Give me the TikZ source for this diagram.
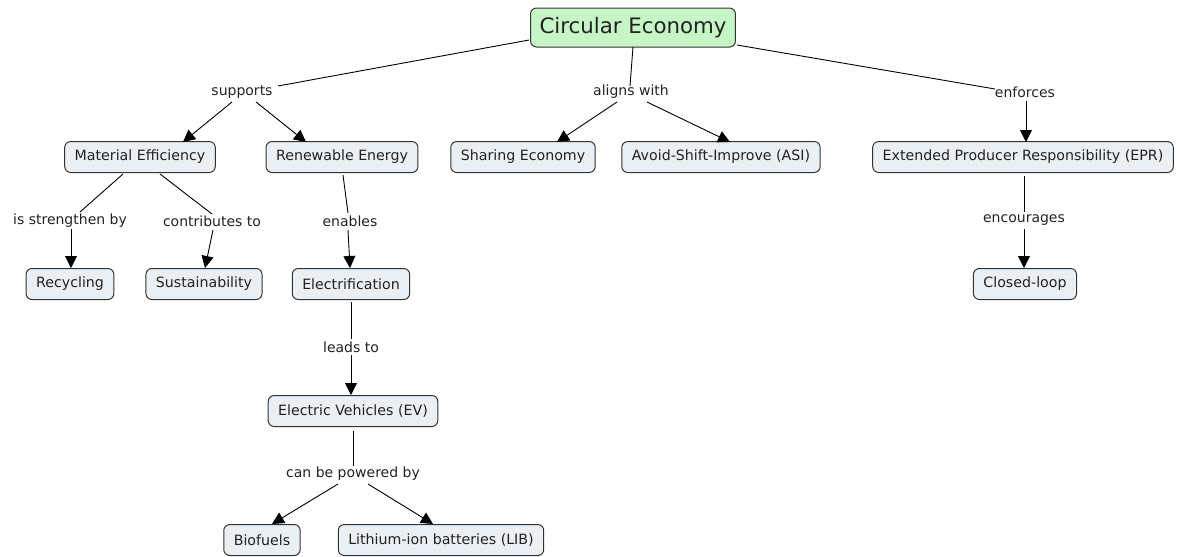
\documentclass[tikz,border=0pt]{standalone}
\usepackage{fontspec}
\setmainfont{DejaVu Sans}
\usetikzlibrary{arrows.meta}
\definecolor{cfill}{HTML}{E9EFF2}
\definecolor{gfill}{HTML}{C6F5C6}
\definecolor{bord}{HTML}{333333}
\definecolor{txt}{HTML}{222222}
\tikzset{
  concept/.style={draw=bord, line width=1pt, fill=cfill, rounded corners=6pt, font=\fontsize{14.2}{16}\selectfont, text=txt, inner xsep=10pt, minimum height=31pt},
  root/.style={concept, fill=gfill, font=\fontsize{21.3}{25}\selectfont, minimum height=39pt, inner xsep=9pt},
  lbl/.style={font=\fontsize{14}{16}\selectfont, text=txt, inner sep=1pt},
  ln/.style={draw=black, line width=0.9pt},
  arr/.style={ln, -{Triangle[width=12pt,length=12pt]}}
}
\newcommand{\pt}[2]{([shift={#2}]#1.center)}
\begin{document}
\begin{tikzpicture}[x=1pt,y=-1pt]
\useasboundingbox (0,0) rectangle (1181,557);
\node[root] (ce) at (633,27.5) {Circular Economy};
\node[concept] (me) at (140,157) {Material Efficiency};
\node[concept] (re) at (342,157) {Renewable Energy};
\node[concept] (se) at (523,157) {Sharing Economy};
\node[concept] (asi) at (721,157) {Avoid-Shift-Improve (ASI)};
\node[concept] (epr) at (1023,157) {Extended Producer Responsibility (EPR)};
\node[concept] (rec) at (70,284) {Recycling};
\node[concept] (sus) at (204,284) {Sustainability};
\node[concept] (el) at (351,284) {Electrification};
\node[concept] (cl) at (1025,284) {Closed-loop};
\node[concept] (ev) at (353,411) {Electric Vehicles (EV)};
\node[concept] (bio) at (262,540) {Biofuels};
\node[concept] (lib) at (441,540) {Lithium-ion batteries (LIB)};

\node[lbl] (l1) at (242,92) {supports};
\node[lbl] (l2) at (631,92) {aligns with};
\node[lbl] (l3) at (1025,92) {enforces};
\node[lbl] (l4) at (70,221) {is strengthen by};
\node[lbl] (l5) at (212,221) {contributes to};
\node[lbl] (l6) at (350,221) {enables};
\node[lbl] (l7) at (351,347) {leads to};
\node[lbl] (l8) at (1024,220) {encourages};
\node[lbl] (l9) at (353,474) {can be powered by};

% links
\draw[ln]  \pt{ce}{(-104,12.5)} -- \pt{l1}{(36,-6)};
\draw[arr] \pt{l1}{(-10,10)} -- \pt{me}{(43,-15)};
\draw[arr] \pt{l1}{(14,10)} -- \pt{re}{(-36,-15)};
\draw[ln]  \pt{ce}{(0,19.5)} -- \pt{l2}{(-1,-6)};
\draw[arr] \pt{l2}{(-14,10)} -- \pt{se}{(34,-15)};
\draw[arr] \pt{l2}{(16,10)} -- \pt{asi}{(9,-15)};
\draw[ln]  \pt{ce}{(104,17.5)} -- \pt{l3}{(-30,-3)};
\draw[arr] \pt{l3}{(1,9)} -- \pt{epr}{(3,-15)};

\draw[ln]  \pt{me}{(-17,17)} -- \pt{l4}{(10,-9)};
\draw[arr] \pt{l4}{(1,8)} -- \pt{rec}{(1,-16)};
\draw[ln]  \pt{me}{(20,17)} -- \pt{l5}{(0,-7)};
\draw[arr] \pt{l5}{(1,9)} -- \pt{sus}{(1,-16)};
\draw[ln]  \pt{re}{(1,18)} -- \pt{l6}{(-2,-8)};
\draw[arr] \pt{l6}{(-2,9)} -- \pt{el}{(-1,-16)};
\draw[ln]  \pt{el}{(0,18)} -- \pt{l7}{(0,-8)};
\draw[arr] \pt{l7}{(0,8)} -- \pt{ev}{(-2,-16)};
\draw[ln]  \pt{ev}{(0,20)} -- \pt{l9}{(0,-8)};
\draw[arr] \pt{l9}{(-15,10)} -- \pt{bio}{(10,-16)};
\draw[arr] \pt{l9}{(15,10)} -- \pt{lib}{(-8,-16)};
\draw[ln]  \pt{epr}{(1,19)} -- \pt{l8}{(0,-8)};
\draw[arr] \pt{l8}{(0,9)} -- \pt{cl}{(-1,-16)};
\end{tikzpicture}
\end{document}
